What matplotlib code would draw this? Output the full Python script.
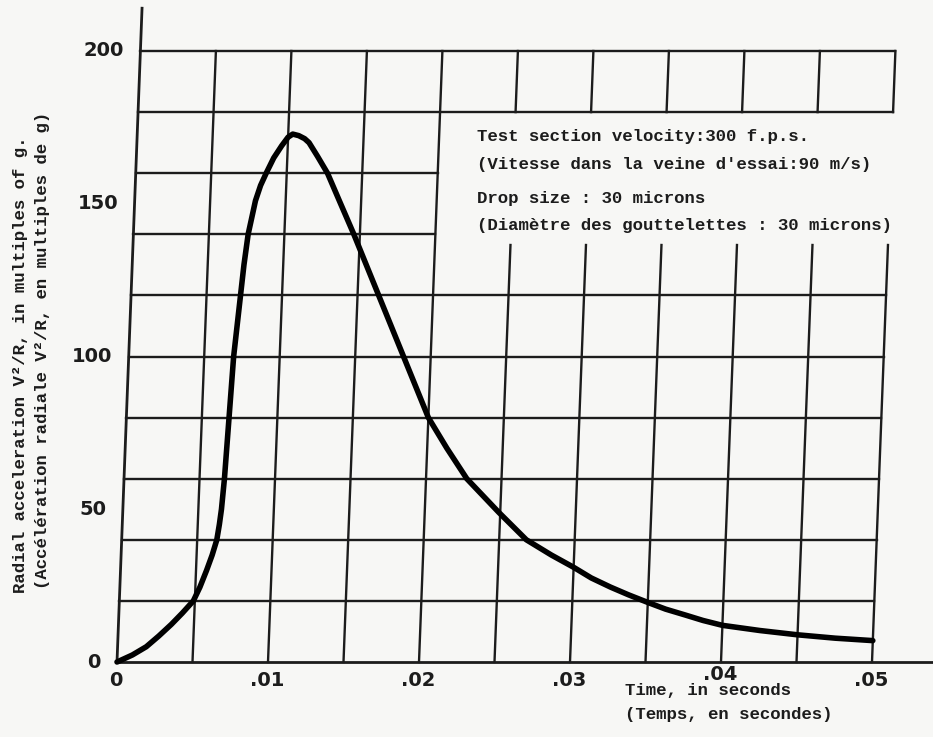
import numpy as np
import matplotlib.pyplot as plt
from matplotlib.transforms import Affine2D

# Radial acceleration of a drop vs. time (30 micron drops, 300 f.p.s.)
time_s = [0.0, 0.0010, 0.0019, 0.0027, 0.0035, 0.0042, 0.0049, 0.0053,
          0.0057, 0.00603, 0.0063, 0.00643, 0.00653, 0.00665, 0.0068, 0.00695,
          0.0071, 0.00725, 0.0074, 0.0076, 0.0080, 0.0083, 0.00864, 0.0091,
          0.0096, 0.0100, 0.0103, 0.0107, 0.0111, 0.0114, 0.0120, 0.0127,
          0.0136, 0.0146, 0.0155, 0.0164, 0.0173, 0.0182, 0.0191, 0.0200,
          0.0213, 0.0227, 0.0249, 0.0268, 0.0285, 0.0300, 0.0312, 0.0325,
          0.0337, 0.0350, 0.0362, 0.0375, 0.0387, 0.0400, 0.0425, 0.0450,
          0.0475, 0.0500]
accel_g = [0.0, 2.3, 5.0, 8.5, 12.3, 16.0, 20.0, 24.5,
           30.0, 35.0, 40.0, 45.0, 50.0, 60.0, 80.0, 100.0,
           110.0, 120.0, 130.0, 140.0, 151.0, 156.0, 160.0, 165.0,
           169.0, 171.8, 172.8, 172.3, 171.3, 170.0, 165.5, 160.0,
           150.5, 140.0, 130.0, 120.0, 110.0, 100.0, 90.0, 80.0,
           70.0, 60.0, 49.0, 40.0, 35.0, 31.0, 27.5, 24.5,
           22.0, 19.5, 17.3, 15.4, 13.6, 12.0, 10.3, 8.9,
           7.8, 7.0]

x_ticks = [0.0, 0.01, 0.02, 0.03, 0.04, 0.05]
x_tick_labels = ['0', '.01', '.02', '.03', '.04', '.05']
y_ticks = [0, 50, 100, 150, 200]
y_tick_labels = ['0', '50', '100', '150', '200']

grid_x = [0.0, 0.005, 0.01, 0.015, 0.02, 0.025, 0.03, 0.035, 0.04, 0.045, 0.05]
grid_y = [0, 20, 40, 60, 80, 100, 120, 140, 160, 180, 200]

notes = ["Test section velocity:300 f.p.s.",
         "(Vitesse dans la veine d'essai:90 m/s)",
         "Drop size : 30 microns",
         "(Diamètre des gouttelettes : 30 microns)"]

W, H = 933, 737
fig = plt.figure(figsize=(W / 100, H / 100), dpi=100, facecolor='#f7f7f5')
ax = fig.add_axes([117 / W, 75 / H, 755 / W, 611 / H])
ax.set_xlim(0, 0.05)
ax.set_ylim(0, 200)
ax.axis('off')

# the hand-drawn grid leans slightly to the right
skew = Affine2D().skew(np.arctan(0.031), 0)
trans = ax.transScale + ax.transLimits + skew + ax.transAxes

ink = '#1c1c1c'
grid_kw = dict(color=ink, lw=1.7, transform=trans, clip_on=False)

# vertical rulings, broken where the notes are written
for gx in grid_x:
    if gx > 0.0201:
        ax.plot([gx, gx], [0, 136.5], **grid_kw)
        ax.plot([gx, gx], [180, 200], **grid_kw)
    elif gx > 0:
        ax.plot([gx, gx], [0, 200], **grid_kw)

# horizontal rulings
for gy in grid_y:
    if gy in (140, 160):
        ax.plot([0, 0.02], [gy, gy], **grid_kw)
    elif gy > 0:
        ax.plot([0, 0.05], [gy, gy], **grid_kw)

# axes lines run past the grid
ax.plot([0, 0], [0, 214], color=ink, lw=2.0, transform=trans, clip_on=False)
ax.plot([0, 0.0541], [0, 0], color=ink, lw=2.0, transform=trans, clip_on=False)

ax.plot(time_s, accel_g, color='black', lw=4.0, transform=trans,
        solid_joinstyle='round', solid_capstyle='round', clip_on=False)

tick_font = dict(family='DejaVu Sans', fontweight='heavy', fontsize=14, color=ink)
for yv, lab in zip(y_ticks, y_tick_labels):
    ax.text(-0.0011, yv, lab, transform=trans, ha='right', va='center',
            **tick_font)
for xv, lab in zip(x_ticks, x_tick_labels):
    ypos = -4.0 if lab == '.04' else -6.0
    ax.text(xv, ypos, lab, transform=trans, ha='center', va='center',
            **tick_font)

mono = dict(family='Liberation Mono', fontweight='bold', fontsize=12.5, color=ink)

fig.text(21 / W, 1 - 365 / H, 'Radial acceleration V²/R, in multiples of g.',
         rotation=90, ha='center', va='center', **mono)
fig.text(43 / W, 1 - 350 / H, '(Accélération radiale V²/R, en multiples de g)',
         rotation=90, ha='center', va='center', **mono)

for ypix, line in zip([137, 165, 198, 225], notes):
    fig.text(477 / W, 1 - ypix / H, line, ha='left', va='center', **mono)

fig.text(625 / W, 1 - 691 / H, 'Time, in seconds', ha='left', va='center', **mono)
fig.text(625 / W, 1 - 714 / H, '(Temps, en secondes)', ha='left', va='center', **mono)

fig.savefig('out.png', dpi=100, facecolor=fig.get_facecolor())
